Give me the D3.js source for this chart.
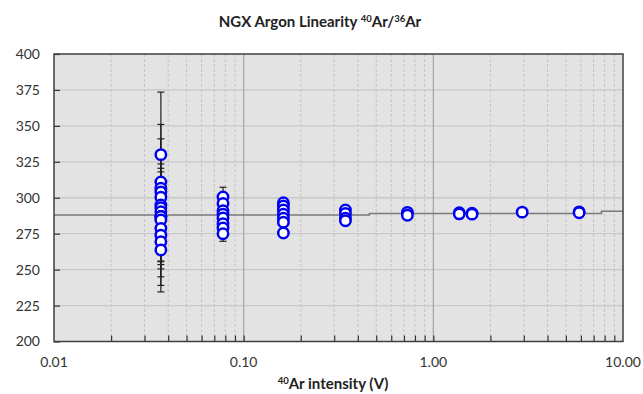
<!DOCTYPE html>
<html><head><meta charset="utf-8">
<script src="https://cdn.jsdelivr.net/npm/d3@7"></script>
<style>body{margin:0;background:#fff}svg{display:block}text{font-family:Lato,"Open Sans",sans-serif}</style>
</head><body><svg id="c" width="643" height="394"></svg>
<script>
// intensity (V), 40Ar/36Ar ratio, 1-sigma error
const intensity = [
 0.0366,0.0366,0.0366,0.0366,0.0366,0.0366,0.0366,0.0366,0.0366,0.0366,0.0366,0.0366,0.0366,0.0366,0.0366,0.0366,
 0.0778,0.0778,0.0778,0.0778,0.0778,0.0778,0.0778,0.0778,
 0.162,0.162,0.162,0.162,0.162,0.162,0.162,
 0.344,0.344,0.344,0.344,
 0.73,0.73, 1.37,1.37, 1.60,1.60, 2.94, 5.87,5.87];
const ratio = [
 330,311,306.6,304,300.3,295,293,290.3,287,287,287,284.5,278.7,274,269.4,263.7,
 300.5,296,291,288.5,286,282,279,275,
 296.5,294.3,291.5,288.5,285.7,283,275.5,
 291.5,289,285.7,284,
 289.8,287.8, 289.6,288.8, 289.2,288.6, 290, 290.2,289.6];
const errs = [
 2,3,3,69.5,4,56,48,4,36.5,33.5,31,29,3,3,3,3,
 2,2,2,18.8,2,2,2,2,
 1,1,1,1,1,1,1,
 1,1,1,1,
 0.5,0.5,0.5,0.5,0.5,0.5,0.5,0.5,0.5];
const trendX = [0.01,0.46,0.46,7.7,7.7,10];
const trendY = [288.0,288.0,289.0,289.0,290.6,290.6];
const xTickVals = [0.01,0.1,1,10];
const xTickLabels = ["0.01","0.10","1.00","10.00"];
const yTickVals = [200,225,250,275,300,325,350,375,400];

const svg = d3.select("#c");
const L=54,R=623,T=54,B=341.5;
const x = d3.scaleLog().domain([0.01,10]).range([L,R]);
const y = d3.scaleLinear().domain([200,400]).range([B,T]);

svg.append("rect").attr("x",L).attr("y",T).attr("width",R-L).attr("height",B-T).attr("fill","#e3e3e3");

const minors=[];
[0.01,0.1,1].forEach(d=>{for(let k=2;k<=9;k++)minors.push(d*k);});
svg.append("g").selectAll("line").data(minors).join("line")
 .attr("x1",d=>x(d)).attr("x2",d=>x(d)).attr("y1",T).attr("y2",B)
 .attr("stroke","#c4c4c4").attr("stroke-width",1).attr("stroke-dasharray","3,2");
svg.append("g").selectAll("line").data(yTickVals.slice(1,-1)).join("line")
 .attr("x1",L).attr("x2",R).attr("y1",d=>y(d)).attr("y2",d=>y(d))
 .attr("stroke","#c8c8c8").attr("stroke-width",1.3);
svg.append("g").selectAll("line").data([0.1,1]).join("line")
 .attr("x1",d=>x(d)).attr("x2",d=>x(d)).attr("y1",T).attr("y2",B)
 .attr("stroke","#a8a8a8").attr("stroke-width",1.3);

svg.append("path").datum(trendX.map((d,i)=>[d,trendY[i]]))
 .attr("d",d3.line().x(d=>x(d[0])).y(d=>y(d[1])))
 .attr("fill","none").attr("stroke","#7a7a7a").attr("stroke-width",1.6);

const yAxis = d3.axisLeft(y).tickValues(yTickVals).tickSize(-6).tickPadding(14).tickFormat(d3.format("d"));
const gy = svg.append("g").attr("transform",`translate(${L},0)`).call(yAxis);
gy.select(".domain").remove();
gy.selectAll("line").attr("stroke","#333").attr("stroke-width",1.2);
gy.selectAll("text").attr("font-size",14).attr("fill","#333").attr("font-family","Lato,'Open Sans',sans-serif");

const xAxis = d3.axisBottom(x).tickValues(minors.concat([0.1,1])).tickSize(-6).tickFormat("");
const gx = svg.append("g").attr("transform",`translate(0,${B})`).call(xAxis);
gx.select(".domain").remove();
gx.selectAll("line").attr("stroke","#333").attr("stroke-width",1.2);
svg.append("g").selectAll("text").data(xTickVals).join("text")
 .attr("x",d=>x(d)).attr("y",367).attr("text-anchor","middle")
 .attr("font-size",14).attr("fill","#333").text((d,i)=>xTickLabels[i]);

const eb = svg.append("g").attr("stroke","#222").attr("stroke-width",1.2);
intensity.forEach((xi,i)=>{
  const cx=x(xi), y1=y(ratio[i]+errs[i]), y2=y(ratio[i]-errs[i]);
  eb.append("line").attr("x1",cx).attr("x2",cx).attr("y1",y1).attr("y2",y2);
  eb.append("line").attr("x1",cx-3.5).attr("x2",cx+3.5).attr("y1",y1).attr("y2",y1);
  eb.append("line").attr("x1",cx-3.5).attr("x2",cx+3.5).attr("y1",y2).attr("y2",y2);
});

svg.append("g").selectAll("circle").data(intensity).join("circle")
 .attr("cx",d=>x(d)).attr("cy",(d,i)=>y(ratio[i])).attr("r",5.2)
 .attr("fill","#fff").attr("stroke","#0000f0").attr("stroke-width",2.5);

svg.append("rect").attr("x",L).attr("y",T).attr("width",R-L).attr("height",B-T)
 .attr("fill","none").attr("stroke","#404040").attr("stroke-width",1.5);

const t = svg.append("text").attr("x",320).attr("y",27).attr("text-anchor","middle")
 .attr("font-size",15).attr("font-weight","bold").attr("fill","#222");
t.append("tspan").text("NGX Argon Linearity ");
t.append("tspan").attr("font-size",9.5).attr("dy",-5).text("40");
t.append("tspan").attr("dy",5).text("Ar/");
t.append("tspan").attr("font-size",9.5).attr("dy",-5).text("36");
t.append("tspan").attr("dy",5).text("Ar");

const xt = svg.append("text").attr("x",333).attr("y",389).attr("text-anchor","middle")
 .attr("font-size",15).attr("font-weight","bold").attr("fill","#222");
xt.append("tspan").attr("font-size",9.5).attr("dy",-5).text("40");
xt.append("tspan").attr("dy",5).text("Ar intensity (V)");
</script></body></html>
